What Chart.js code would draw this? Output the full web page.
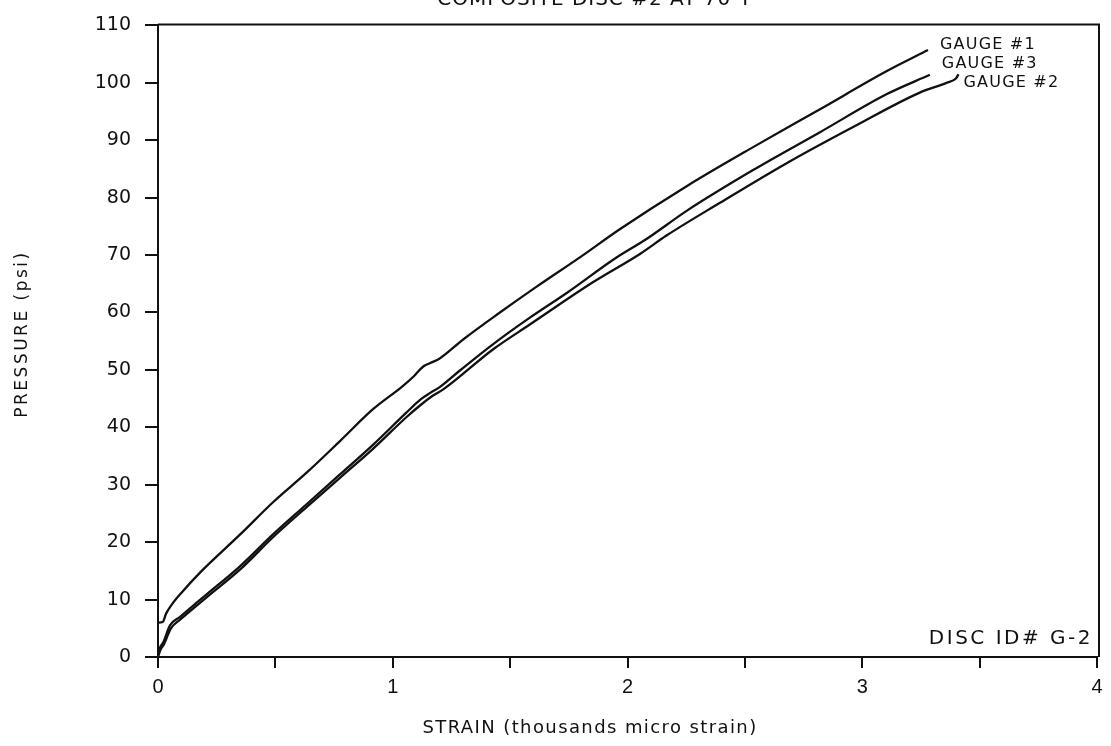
<!DOCTYPE html>
<html>
<head>
<meta charset="utf-8">
<title>Composite Disc #2 at 70°F</title>
<script src="https://cdn.jsdelivr.net/npm/chart.js@4/dist/chart.umd.min.js"></script>
<style>
  html, body { margin: 0; padding: 0; background: #ffffff; }
  #wrap { width: 1111px; height: 746px; position: relative; }
  canvas { display: block; }
</style>
</head>
<body>
<div id="wrap"><canvas id="chart" width="1111" height="746"></canvas></div>
<script>
// Strain in thousands of micro strain, pressure in psi
const strainG1 = [0.000, 0.020, 0.035, 0.060, 0.100, 0.179, 0.349, 0.491, 0.633, 0.775, 0.917, 1.040, 1.090, 1.130, 1.160, 1.200, 1.300, 1.443, 1.613, 1.797, 1.967, 2.252, 2.535, 2.820, 3.103, 3.280];
const pressureG1 = [6.0, 6.1, 7.6, 9.2, 11.2, 14.7, 21.3, 27.0, 32.1, 37.6, 43.2, 47.1, 48.9, 50.6, 51.2, 52.0, 55.3, 59.6, 64.5, 69.6, 74.5, 82.0, 88.8, 95.4, 102.0, 105.7];

const strainG3 = [0.000, 0.008, 0.023, 0.051, 0.094, 0.207, 0.349, 0.491, 0.633, 0.775, 0.917, 1.059, 1.120, 1.160, 1.200, 1.286, 1.428, 1.584, 1.741, 1.950, 2.081, 2.252, 2.535, 2.820, 3.103, 3.288];
const pressureG3 = [0.4, 1.6, 2.6, 5.5, 7.0, 10.9, 15.8, 21.4, 26.6, 31.8, 37.0, 42.6, 44.9, 46.0, 47.0, 49.9, 54.5, 59.1, 63.4, 69.5, 72.8, 77.7, 84.8, 91.4, 98.0, 101.4];

const strainG2 = [0.000, 0.010, 0.025, 0.055, 0.094, 0.207, 0.349, 0.491, 0.633, 0.775, 0.917, 1.059, 1.116, 1.170, 1.215, 1.428, 1.584, 1.854, 2.053, 2.166, 2.394, 2.678, 2.961, 3.245, 3.359, 3.400, 3.410];
const pressureG2 = [0.0, 1.2, 2.2, 5.0, 6.5, 10.4, 15.2, 20.9, 26.1, 31.2, 36.3, 41.8, 43.8, 45.5, 46.6, 53.6, 57.9, 65.3, 70.2, 73.4, 79.1, 86.0, 92.3, 98.3, 100.0, 100.8, 101.5];

const seriesNames = ['GAUGE #1', 'GAUGE #3', 'GAUGE #2'];

// Axis ticks
const xTickValues = [0, 0.5, 1, 1.5, 2, 2.5, 3, 3.5, 4];
const xTickLabels = ['0', '', '1', '', '2', '', '3', '', '4'];
const yTickValues = [0, 10, 20, 30, 40, 50, 60, 70, 80, 90, 100, 110];
const yTickLabels = ['0', '10', '20', '30', '40', '50', '60', '70', '80', '90', '100', '110'];

const titleText = 'COMPOSITE DISC #2 AT 70°F';
const xTitle = 'STRAIN (thousands micro strain)';
const yTitle = 'PRESSURE (psi)';
const discId = 'DISC ID# G-2';

const INK = '#111111';

function toPoints(xs, ys) {
  return xs.map((x, i) => ({ x: x, y: ys[i] }));
}

function lineDataset(label, xs, ys) {
  return {
    label: label,
    data: toPoints(xs, ys),
    showLine: true,
    borderColor: INK,
    backgroundColor: INK,
    borderWidth: 2.3,
    pointRadius: 0,
    pointHoverRadius: 0,
    cubicInterpolationMode: 'monotone',
    fill: false
  };
}

// Frame, headline, curve labels and axis titles drawn on the canvas
const annotations = {
  id: 'annotations',
  afterDraw(chart) {
    const ctx = chart.ctx;
    const a = chart.chartArea;
    const xs = chart.scales.x;
    const ys = chart.scales.y;
    ctx.save();

    // box around the plot
    ctx.strokeStyle = INK;
    ctx.lineWidth = 2;
    ctx.beginPath();
    ctx.moveTo(a.left, a.top - 1);
    ctx.lineTo(a.right + 2, a.top - 1);
    ctx.lineTo(a.right + 2, a.bottom);
    ctx.stroke();

    ctx.fillStyle = INK;

    // headline (runs off the top edge)
    ctx.font = '20px "DejaVu Sans"';
    ctx.letterSpacing = '1px';
    ctx.textAlign = 'center';
    ctx.textBaseline = 'alphabetic';
    ctx.fillText(titleText, 596, 5);

    // curve labels next to the end of each curve
    ctx.font = '16px "DejaVu Sans"';
    ctx.letterSpacing = '1.2px';
    ctx.textAlign = 'left';
    ctx.textBaseline = 'middle';
    const ends = [
      { s: strainG1, p: pressureG1, dx: 12, dy: -5 },
      { s: strainG3, p: pressureG3, dx: 12, dy: -11 },
      { s: strainG2, p: pressureG2, dx: 5, dy: 9 }
    ];
    ends.forEach((e, i) => {
      const n = e.s.length - 1;
      const px = xs.getPixelForValue(e.s[n]);
      const py = ys.getPixelForValue(e.p[n]);
      ctx.fillText(seriesNames[i], px + e.dx, py + e.dy);
    });

    // specimen id in the lower right corner
    ctx.font = '20px "DejaVu Sans"';
    ctx.letterSpacing = '2.5px';
    ctx.textAlign = 'right';
    ctx.fillText(discId, a.right - 4, a.bottom - 18);

    // x axis title
    ctx.font = '18px "DejaVu Sans"';
    ctx.letterSpacing = '1.4px';
    ctx.textAlign = 'center';
    ctx.fillText(xTitle, 590, 728);

    // y axis title
    ctx.translate(23, 334);
    ctx.rotate(-Math.PI / 2);
    ctx.font = '17px "DejaVu Sans"';
    ctx.letterSpacing = '2.5px';
    ctx.fillText(yTitle, 0, 0);

    ctx.restore();
  }
};

new Chart(document.getElementById('chart'), {
  type: 'scatter',
  data: {
    datasets: [
      lineDataset(seriesNames[0], strainG1, pressureG1),
      lineDataset(seriesNames[1], strainG3, pressureG3),
      lineDataset(seriesNames[2], strainG2, pressureG2)
    ]
  },
  options: {
    responsive: false,
    animation: false,
    events: [],
    layout: { padding: { top: 17, right: 14, left: 0, bottom: 0 } },
    plugins: {
      legend: { display: false },
      tooltip: { enabled: false },
      title: { display: false }
    },
    scales: {
      x: {
        type: 'linear',
        min: 0,
        max: 4,
        afterBuildTicks(scale) {
          scale.ticks = xTickValues.map(v => ({ value: v }));
        },
        afterFit(scale) { scale.height = 89; },
        ticks: {
          autoSkip: false,
          maxRotation: 0,
          padding: 7,
          color: INK,
          font: { family: '"Liberation Sans"', size: 20 },
          callback(value, index) { return xTickLabels[index]; }
        },
        grid: {
          display: true,
          drawOnChartArea: false,
          drawTicks: true,
          tickLength: 11,
          color: INK,
          lineWidth: 2
        },
        border: { display: true, color: INK, width: 2 }
      },
      y: {
        type: 'linear',
        min: 0,
        max: 110,
        afterBuildTicks(scale) {
          scale.ticks = yTickValues.map(v => ({ value: v }));
        },
        afterFit(scale) { scale.width = 158; },
        ticks: {
          autoSkip: false,
          padding: 14,
          color: INK,
          font: { family: '"DejaVu Sans"', size: 19 },
          callback(value, index) { return yTickLabels[index]; }
        },
        grid: {
          display: true,
          drawOnChartArea: false,
          drawTicks: true,
          tickLength: 13,
          color: INK,
          lineWidth: 2
        },
        border: { display: true, color: INK, width: 2 }
      }
    }
  },
  plugins: [annotations]
});
</script>
</body>
</html>
